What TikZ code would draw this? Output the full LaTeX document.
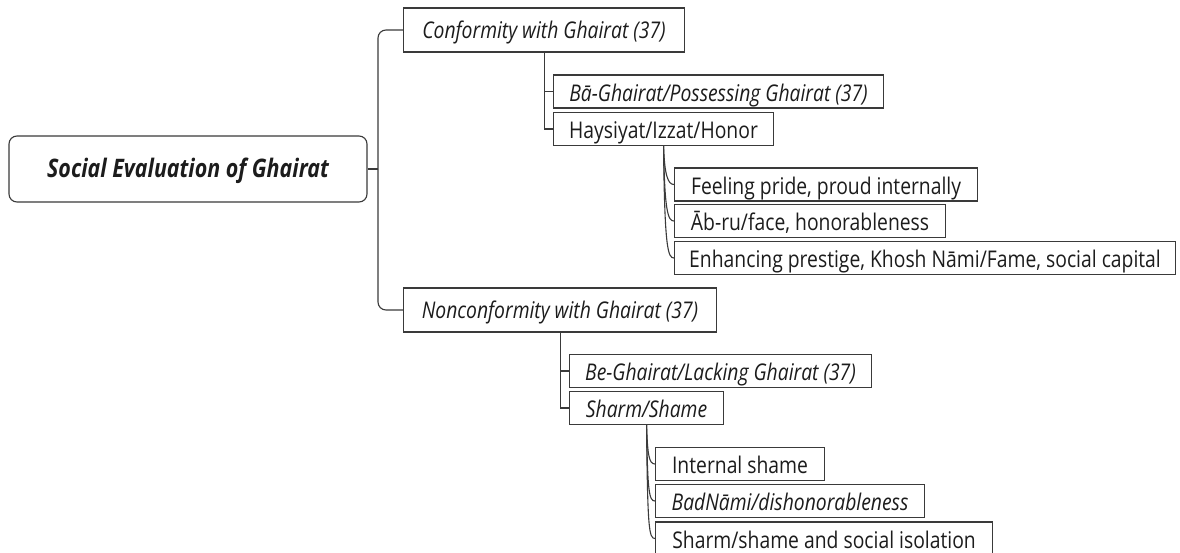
\documentclass[tikz,border=0pt]{standalone}
\usepackage{fontspec}
\setmainfont{Open Sans}[FakeStretch=0.84]
\usetikzlibrary{calc}
\definecolor{linec}{HTML}{3A3A3A}
\definecolor{txt}{HTML}{1C1C1C}
\begin{document}
\begin{tikzpicture}[x=1pt,y=-1pt,
  conn/.style={draw=linec, line width=1.1pt},
  box/.style={draw=linec, line width=1.1pt, fill=white, rectangle, anchor=west,
    inner xsep=2pt, inner ysep=0pt, text=txt, font=\fontsize{23}{26}\selectfont},
  leaf/.style={box, minimum height=33pt, text height=19.5pt, text depth=0pt},
  leafit/.style={leaf, font=\fontsize{23}{26}\selectfont\itshape},
  midbox/.style={box, minimum height=44pt, text height=18pt, text depth=2pt,
    font=\fontsize{23}{26}\selectfont\itshape},
  rootbox/.style={draw=linec, line width=1.1pt, fill=white, rounded corners=8pt,
    minimum width=358pt, minimum height=66pt, inner sep=0pt, text=txt,
    text height=19pt, text depth=3pt,
    font=\fontsize{25.5}{28}\selectfont\bfseries\itshape}
]
\useasboundingbox (0,0) rectangle (1180,552);

% root
\node[rootbox] (root) at (188,169) {Social Evaluation of Ghairat};

% first level
\node[midbox, minimum width=281pt] (conf) at (403,30) {Conformity with Ghairat (37)};
\node[midbox, minimum width=313pt] (nonc) at (403,310) {Nonconformity with Ghairat (37)};

% conformity branch
\node[leafit, minimum width=330pt] (ba)  at (553,91.5) {Bā-Ghairat/Possessing Ghairat (37)};
\node[leaf,   minimum width=220pt] (hay) at (553,129)  {Haysiyat/Izzat/Honor};
\node[leaf, minimum width=303pt] (feel) at (674,184.5) {Feeling pride, proud internally};
\node[leaf, minimum width=271pt] (abru) at (674,221)   {Āb-ru/face, honorableness};
\node[leaf, minimum width=501pt] (enh)  at (674,258)   {Enhancing prestige, Khosh Nāmi/Fame, social capital};

% nonconformity branch
\node[leafit, minimum width=302pt] (be)    at (569,371) {Be-Ghairat/Lacking Ghairat (37)};
\node[leafit, minimum width=154pt] (sharm) at (569,408) {Sharm/Shame};
\node[leaf,   minimum width=169pt] (inner) at (655,464)   {Internal shame};
\node[leafit, minimum width=269pt] (bad)   at (655,501)   {BadNāmi/dishonorableness};
\node[leaf,   minimum width=337pt] (iso)   at (655,538.5) {Sharm/shame and social isolation};

% bracket from the root to the first level
\coordinate (bx) at (378,169);
\draw[conn] (root.east) -- (bx);
\draw[conn, rounded corners=8pt] (conf.west) -| (bx);
\draw[conn, rounded corners=8pt] (nonc.west) -| (bx);

% elbow connectors
\draw[conn] (conf.south) |- (hay.west);
\draw[conn] (conf.south |- ba.west) -- (ba.west);
\draw[conn] (nonc.south) |- (sharm.west);
\draw[conn] (nonc.south |- be.west) -- (be.west);

% curved connectors
\foreach \c in {feel,abru,enh}{
  \draw[conn] (hay.south) .. controls ($(hay.south |- \c.west)+(1,-9)$) and ($(\c.west)+(-6,0)$) .. (\c.west);
}
\foreach \c in {inner,bad,iso}{
  \draw[conn] (sharm.south) .. controls ($(sharm.south |- \c.west)+(1,-9)$) and ($(\c.west)+(-6,0)$) .. (\c.west);
}
\end{tikzpicture}
\end{document}
